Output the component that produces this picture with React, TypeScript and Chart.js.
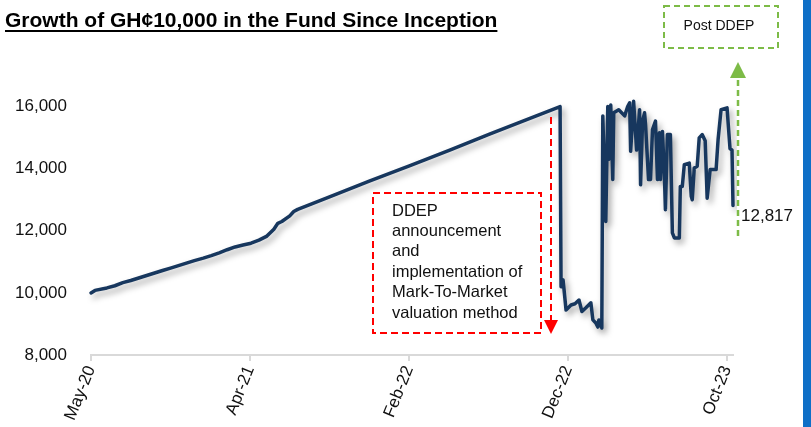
import { useEffect, useRef } from 'react';
import { Chart, registerables } from 'chart.js';

Chart.register(...registerables);

// ---- data (trading-period number, NAV of GH¢10,000) ----
const tradingDay = [
  0, 4, 16, 24, 32, 40, 48, 56, 64, 72, 80, 88, 96, 104, 113, 121, 129, 137, 145, 153,
  161, 169, 177, 184, 188, 192, 200, 204, 208, 240, 280, 321, 361, 401, 441, 472,
  473, 475, 476, 478, 483, 487, 491, 494, 498, 503, 505, 508, 510, 511, 514,
  515, 518, 520, 521, 523, 525, 526, 531, 537, 540, 542, 543, 546, 549, 552, 553, 555,
  557, 558, 561, 563, 565, 568, 570, 572, 573, 575, 577, 578, 580, 583, 585, 587, 592,
  593, 595, 597, 602, 604, 605, 607, 610, 612, 615, 618, 620, 623, 629, 631, 634, 640,
  643, 645, 646,
];
const nav = [
  10000, 10080, 10160, 10230, 10330, 10400, 10480, 10560, 10640, 10720, 10800, 10880, 10960, 11040, 11120, 11200, 11290, 11390, 11480, 11540,
  11600, 11700, 11830, 12050, 12240, 12300, 12480, 12620, 12690, 13090, 13600, 14100, 14600, 15110, 15610, 16000,
  10200, 10420, 10100, 9450, 9610, 9650, 9770, 9400, 9520, 9680, 9130, 9030, 8900, 9130, 8870,
  15700, 12300, 16000, 14300, 16050, 13650, 15800, 15900, 15700, 16000, 16120, 14560, 16170, 14600, 15900, 13480, 15530,
  15800, 15420, 13650, 13650, 15260, 15530, 13650, 15160, 13650, 15200, 13750, 12680, 15100, 15100, 11930, 11770, 11770,
  13430, 13430, 14130, 14180, 13110, 13000, 14020, 14080, 14990, 15100, 14900, 13050, 13970, 13970, 14940, 15900, 15960,
  14650, 14600, 12817,
];
const tickDays = [0, 160, 320, 480, 640];
const tickLabels = ['May-20', 'Apr-21', 'Feb-22', 'Dec-22', 'Oct-23'];
const yTicks = [8000, 10000, 12000, 14000, 16000];
const chartTitle = 'Growth of GH¢10,000 in the Fund Since Inception';
const noteLines = ['DDEP', 'announcement', 'and', 'implementation of', 'Mark-To-Market', 'valuation method'];
const postLabel = 'Post DDEP';

const FONT = '"Liberation Sans", Arial, Helvetica, sans-serif';
const NAVY = '#17375E';
const RED = '#FF0000';
const GREEN = '#7DBB47';

const shadowPlugin = {
  id: 'lineShadow',
  beforeDatasetDraw(chart: any) {
    const ctx = chart.ctx;
    ctx.save();
    ctx.shadowColor = 'rgba(0,0,0,0.35)';
    ctx.shadowBlur = 6;
    ctx.shadowOffsetX = 3;
    ctx.shadowOffsetY = 4;
  },
  afterDatasetDraw(chart: any) {
    chart.ctx.restore();
  },
};

const decorPlugin = {
  id: 'decor',
  afterDraw(chart: any) {
    const ctx = chart.ctx as CanvasRenderingContext2D;
    const yScale = chart.scales.y;
    ctx.save();

    // Title
    ctx.fillStyle = '#000';
    ctx.font = `bold 21px ${FONT}`;
    ctx.textAlign = 'left';
    ctx.textBaseline = 'alphabetic';
    ctx.fillText(chartTitle, 5, 27);
    const tw = ctx.measureText(chartTitle).width;
    ctx.fillRect(5, 30, tw, 2);

    // Red dashed box with note
    ctx.setLineDash([7, 4]);
    ctx.strokeStyle = RED;
    ctx.lineWidth = 2;
    ctx.strokeRect(373, 193, 168, 140);
    ctx.fillStyle = '#111';
    ctx.font = `16.5px ${FONT}`;
    ctx.textBaseline = 'middle';
    noteLines.forEach((t, i) => ctx.fillText(t, 392, 211 + i * 20.4));

    // Red dashed arrow
    ctx.beginPath();
    ctx.moveTo(551, 117);
    ctx.lineTo(551, 320);
    ctx.stroke();
    ctx.setLineDash([]);
    ctx.fillStyle = RED;
    ctx.beginPath();
    ctx.moveTo(544, 320);
    ctx.lineTo(558, 320);
    ctx.lineTo(551, 334);
    ctx.closePath();
    ctx.fill();

    // Green dashed box "Post DDEP"
    ctx.setLineDash([6, 4]);
    ctx.strokeStyle = GREEN;
    ctx.lineWidth = 2;
    ctx.strokeRect(664, 6, 114, 42);
    ctx.fillStyle = '#111';
    ctx.font = `14px ${FONT}`;
    ctx.textAlign = 'center';
    ctx.fillText(postLabel, 719, 26);

    // Green dashed arrow
    ctx.lineWidth = 2.5;
    ctx.beginPath();
    ctx.moveTo(738, 236);
    ctx.lineTo(738, 78);
    ctx.stroke();
    ctx.setLineDash([]);
    ctx.fillStyle = GREEN;
    ctx.beginPath();
    ctx.moveTo(730, 78);
    ctx.lineTo(746, 78);
    ctx.lineTo(738, 62);
    ctx.closePath();
    ctx.fill();

    // Last value label
    const last = nav[nav.length - 1];
    ctx.fillStyle = '#111';
    ctx.font = `17px ${FONT}`;
    ctx.textAlign = 'left';
    ctx.fillText(last.toLocaleString('en-US'), 741, yScale.getPixelForValue(last) + 11);

    // Blue slide stripe
    ctx.fillStyle = '#0E6FC7';
    ctx.fillRect(803, 0, 8, 427);
    ctx.restore();
  },
};

export default function App() {
  const ref = useRef<HTMLCanvasElement | null>(null);

  useEffect(() => {
    if (!ref.current) return;
    const chart = new Chart(ref.current, {
      type: 'line',
      data: {
        datasets: [
          {
            data: tradingDay.map((d, i) => ({ x: d, y: nav[i] })),
            borderColor: NAVY,
            borderWidth: 3.5,
            pointRadius: 0,
            tension: 0,
            borderJoinStyle: 'round',
            borderCapStyle: 'round',
            fill: false,
            clip: 4,
          },
        ],
      },
      options: {
        responsive: false,
        animation: false,
        events: [],
        layout: { padding: { top: 60, right: 78, left: 0, bottom: 0 } },
        plugins: { legend: { display: false }, tooltip: { enabled: false }, title: { display: false } },
        scales: {
          x: {
            type: 'linear',
            min: 0,
            max: 646,
            afterBuildTicks: (s: any) => {
              s.ticks = tickDays.map((v) => ({ value: v }));
            },
            afterFit: (s: any) => {
              s.height = 72;
            },
            ticks: {
              autoSkip: false,
              minRotation: 68,
              maxRotation: 68,
              padding: 2,
              color: '#111',
              font: { size: 17, family: FONT },
              callback: (_v: any, i: number) => tickLabels[i] ?? '',
            },
            grid: { drawOnChartArea: false, drawTicks: true, tickLength: 6, color: '#D9D9D9', lineWidth: 2 },
            border: { display: true, color: '#D9D9D9', width: 2 },
          },
          y: {
            min: 8000,
            max: 17500,
            afterBuildTicks: (s: any) => {
              s.ticks = yTicks.map((v) => ({ value: v }));
            },
            afterFit: (s: any) => {
              s.width = 91;
            },
            ticks: {
              padding: 24,
              color: '#111',
              font: { size: 17, family: FONT },
              callback: (v: any) => Number(v).toLocaleString('en-US'),
            },
            grid: { display: false, drawTicks: false },
            border: { display: false },
          },
        },
      },
      plugins: [shadowPlugin, decorPlugin],
    } as any);
    return () => chart.destroy();
  }, []);

  return (
    <div style={{ position: 'fixed', left: 0, top: 0, width: 811, height: 427, background: '#fff', overflow: 'hidden' }}>
      <canvas ref={ref} width={811} height={427} style={{ display: 'block' }} />
    </div>
  );
}
